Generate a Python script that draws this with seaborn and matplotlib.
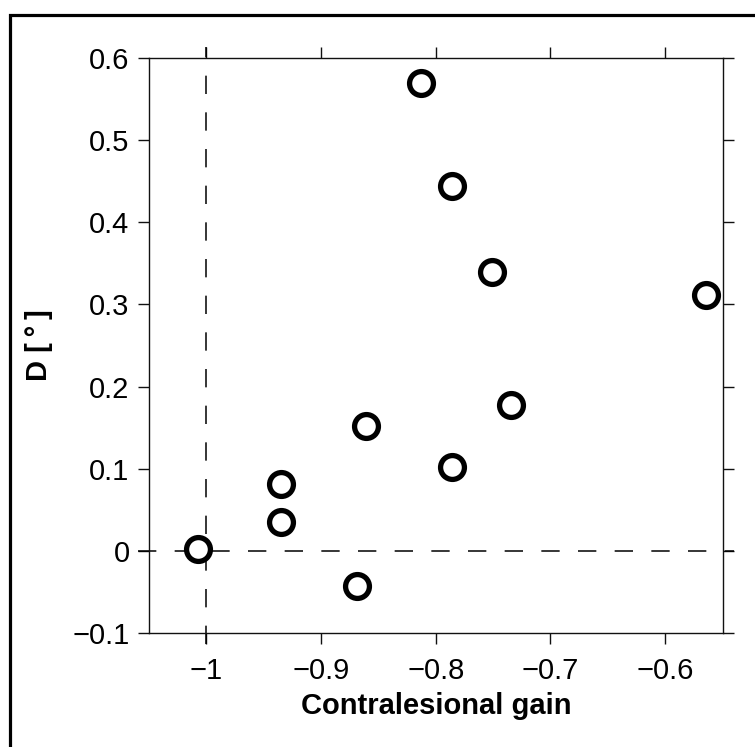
import matplotlib
matplotlib.use('Agg')

import pandas as pd
import matplotlib.pyplot as plt
import seaborn as sns
from matplotlib.patches import Rectangle
from matplotlib.ticker import FuncFormatter

# data
gain = [-1.007, -0.935, -0.935, -0.869, -0.861, -0.813, -0.786, -0.786, -0.751, -0.734, -0.564]
d_deg = [0.002, 0.035, 0.081, -0.043, 0.152, 0.570, 0.444, 0.102, 0.339, 0.177, 0.312]

x_ticks = [-1, -0.9, -0.8, -0.7, -0.6]
y_ticks = [-0.1, 0, 0.1, 0.2, 0.3, 0.4, 0.5, 0.6]

df = pd.DataFrame({'gain': gain, 'D': d_deg})

sns.set_style('ticks')
plt.rcParams['font.family'] = ['Liberation Sans', 'DejaVu Sans']
plt.rcParams['text.color'] = 'black'
plt.rcParams['axes.labelcolor'] = 'black'
plt.rcParams['xtick.color'] = 'black'
plt.rcParams['ytick.color'] = 'black'

fig = plt.figure(figsize=(7.55, 7.47), dpi=100)
ax = fig.add_axes([0.1974, 0.1526, 0.7596, 0.7698])

# frame around the figure (only top and left are inside the image)
fig.patches.append(Rectangle((10 / 755, -0.2), 1.5, 1.2 - 14.5 / 747,
                             transform=fig.transFigure, fill=False,
                             edgecolor='black', linewidth=2.3, clip_on=False))

# reference lines, run out to the tick ends
ax.axvline(-1, ymin=-11 / 575, ymax=1 + 11 / 575, color='black', lw=1.1,
           linestyle=(0, (12, 12)), clip_on=False, zorder=1)
ax.axhline(0, xmin=-11 / 573.5, xmax=1 + 11 / 573.5, color='black', lw=1.1,
           linestyle=(0, (12, 12)), clip_on=False, zorder=1)

sns.scatterplot(data=df, x='gain', y='D', ax=ax, s=295, marker='o',
                facecolor='white', edgecolor='black', linewidth=3.8,
                zorder=3, clip_on=False)

ax.set_xlim(-1.05, -0.55)
ax.set_ylim(-0.1, 0.6)
ax.set_xticks(x_ticks)
ax.set_yticks(y_ticks)

fmt = FuncFormatter(lambda v, p: ('%g' % round(v, 2)).replace('-', '\u2212'))
ax.xaxis.set_major_formatter(fmt)
ax.yaxis.set_major_formatter(fmt)

for side in ['top', 'right', 'left', 'bottom']:
    ax.spines[side].set_visible(True)
    ax.spines[side].set_linewidth(1.0)
    ax.spines[side].set_color('#111111')

ax.tick_params(direction='out', length=8, width=1.0, color='#111111',
               labelcolor='black', top=True, right=True, labelsize=21)
ax.tick_params(axis='x', pad=9.5)
ax.tick_params(axis='y', pad=6)

ax.set_xlabel('Contralesional gain', fontsize=21, fontweight='bold')
ax.set_ylabel('D [\u2009\u00b0\u2009]', fontsize=21, fontweight='bold')
ax.xaxis.set_label_coords(0.5, -0.103)
ax.yaxis.set_label_coords(-0.167, 0.5)

plt.savefig('out.png', dpi=100)
plt.close()
